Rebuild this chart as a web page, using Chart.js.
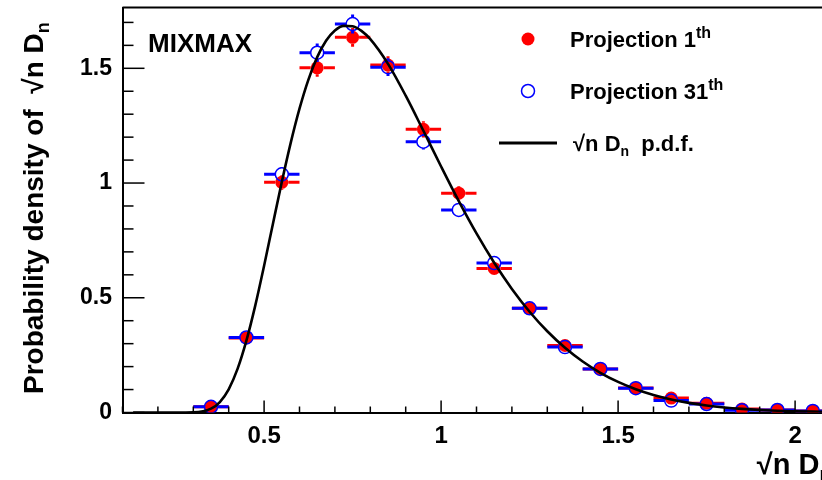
<!DOCTYPE html>
<html>
<head>
<meta charset="utf-8">
<script src="https://cdn.jsdelivr.net/npm/chart.js@4.4.1/dist/chart.umd.min.js"></script>
<style>
  html, body { margin: 0; padding: 0; overflow: hidden; background: #fff; width: 822px; height: 480px; }
</style>
</head>
<body>
<canvas id="kolmo" width="822" height="480"></canvas>
<script>
// bin centres (bin width 0.1)
const binCentres = [0.35, 0.45, 0.55, 0.65, 0.75, 0.85, 0.95, 1.05, 1.15, 1.25, 1.35, 1.45, 1.55, 1.65, 1.75, 1.85, 1.95, 2.05];
const binHalfWidth = 0.05;

// Projection 1th
const proj1 = [0.025, 0.325, 1.003, 1.502, 1.635, 1.514, 1.234, 0.956, 0.628, 0.454, 0.292, 0.190, 0.107, 0.063, 0.040, 0.015, 0.011, 0.007];
const proj1Err = [0.006, 0.018, 0.032, 0.039, 0.041, 0.039, 0.035, 0.031, 0.025, 0.021, 0.017, 0.014, 0.010, 0.008, 0.006, 0.004, 0.003, 0.003];

// Projection 31th
const proj31 = [0.025, 0.327, 1.038, 1.568, 1.693, 1.505, 1.180, 0.883, 0.651, 0.454, 0.285, 0.190, 0.106, 0.052, 0.037, 0.010, 0.011, 0.007];
const proj31Err = [0.006, 0.018, 0.032, 0.040, 0.041, 0.039, 0.034, 0.030, 0.026, 0.021, 0.017, 0.014, 0.010, 0.007, 0.006, 0.003, 0.003, 0.003];

// sqrt(n) Dn p.d.f.
const pdfX = [0.13, 0.2, 0.25, 0.3, 0.35, 0.375, 0.4, 0.425, 0.45, 0.475, 0.5, 0.525, 0.55, 0.575, 0.6, 0.625, 0.65, 0.675, 0.7, 0.725, 0.75, 0.775, 0.8, 0.85, 0.9, 0.95, 1.0, 1.05, 1.1, 1.15, 1.2, 1.25, 1.3, 1.35, 1.4, 1.45, 1.5, 1.55, 1.6, 1.65, 1.7, 1.75, 1.8, 1.85, 1.9, 1.95, 2.0, 2.05, 2.1];
const pdfY = [0, 0, 0.000004, 0.0008, 0.0166, 0.0457, 0.1012, 0.1899, 0.3129, 0.4658, 0.6396, 0.8229, 1.0043, 1.1739, 1.3241, 1.4499, 1.5486, 1.6200, 1.6647, 1.6850, 1.6835, 1.6632, 1.6269, 1.5193, 1.3808, 1.2277, 1.0720, 0.9211, 0.7803, 0.6523, 0.5385, 0.4392, 0.3540, 0.2821, 0.2222, 0.1731, 0.1333, 0.1015, 0.0765, 0.0570, 0.0420, 0.0306, 0.0221, 0.0158, 0.0111, 0.0078, 0.0054, 0.0037, 0.0025];

const xTickValues = [0.5, 1, 1.5, 2];
const xTickLabels = ["0.5", "1", "1.5", "2"];
const yTickValues = [0, 0.5, 1, 1.5];
const yTickLabels = ["0", "0.5", "1", "1.5"];

const FONT = '"Liberation Sans", Arial, Helvetica, sans-serif';
const MARKER_R = 6.5;

function isMajor(v) {
  return Math.abs(v / 0.5 - Math.round(v / 0.5)) < 1e-6;
}

function labelFor(v, values, labels) {
  const i = values.findIndex(t => Math.abs(t - v) < 1e-6);
  return i >= 0 ? labels[i] : "";
}

// parts: [text, mode]  mode 0 normal, 1 subscript, 2 superscript
function richText(ctx, parts, x, y, size, align, small) {
  const k = small || 0.64;
  const fontOf = p => "bold " + (p[1] ? Math.round(size * k) : size) + "px " + FONT;
  const widths = parts.map(p => { ctx.font = fontOf(p); return ctx.measureText(p[0]).width; });
  const total = widths.reduce((a, b) => a + b, 0);
  let cx = align === "right" ? x - total : x;
  ctx.textAlign = "left";
  ctx.textBaseline = "alphabetic";
  parts.forEach((p, i) => {
    ctx.font = fontOf(p);
    let dy = 0;
    if (p[1] === 1) dy = size * 0.22;
    if (p[1] === 2) dy = -size * 0.42;
    ctx.fillText(p[0], cx, y + dy);
    cx += widths[i];
  });
}

function seg(ctx, x1, y1, x2, y2) {
  ctx.beginPath();
  ctx.moveTo(x1, y1);
  ctx.lineTo(x2, y2);
  ctx.stroke();
}

function noPad(s) {
  s.paddingTop = 0;
  s.paddingBottom = 0;
  s.paddingLeft = 0;
  s.paddingRight = 0;
}

// error bars, drawn just under each dataset's markers
const errorBars = {
  id: "errorBars",
  beforeDatasetDraw(chart, args) {
    const ds = chart.data.datasets[args.index];
    if (!ds.errY) return;
    const ctx = chart.ctx;
    const xs = chart.scales.x, ys = chart.scales.y;
    const a = chart.chartArea;
    ctx.save();
    ctx.beginPath();
    ctx.rect(a.left, a.top, a.right - a.left, a.bottom - a.top);
    ctx.clip();
    ctx.strokeStyle = ds.pointBorderColor;
    ctx.lineWidth = 3;
    ds.data.forEach((p, i) => {
      const px = xs.getPixelForValue(p.x), py = ys.getPixelForValue(p.y);
      const xl = xs.getPixelForValue(p.x - binHalfWidth), xr = xs.getPixelForValue(p.x + binHalfWidth);
      const yt = ys.getPixelForValue(p.y + ds.errY[i]), yb = ys.getPixelForValue(p.y - ds.errY[i]);
      seg(ctx, xl, py, px - MARKER_R, py);
      seg(ctx, px + MARKER_R, py, xr, py);
      if (py - yt > MARKER_R) seg(ctx, px, yt, px, py - MARKER_R);
      if (yb - py > MARKER_R) seg(ctx, px, py + MARKER_R, px, Math.min(yb, a.bottom));
    });
    ctx.restore();
  }
};

// ROOT style frame: inward ticks, top border, texts and legend
const rootFrame = {
  id: "rootFrame",
  afterDraw(chart) {
    const ctx = chart.ctx;
    const a = chart.chartArea;
    const xs = chart.scales.x, ys = chart.scales.y;
    ctx.save();
    ctx.strokeStyle = "#000";
    ctx.lineWidth = 2;
    seg(ctx, a.left, a.top, a.right, a.top);
    ctx.lineWidth = 1.5;
    xs.ticks.forEach(t => {
      const px = xs.getPixelForValue(t.value);
      seg(ctx, px, a.bottom, px, a.bottom - (isMajor(t.value) ? 12 : 6));
    });
    ys.ticks.forEach(t => {
      const py = ys.getPixelForValue(t.value);
      seg(ctx, a.left, py, a.left + (isMajor(t.value) ? 22 : 11), py);
    });

    ctx.fillStyle = "#000";
    richText(ctx, [["MIXMAX", 0]], 148, 52, 26);

    // axis titles
    richText(ctx, [["\u221An D", 0], ["n", 1]], 831, 474, 29, "right");
    ctx.save();
    ctx.translate(43, 394);
    ctx.rotate(-Math.PI / 2);
    richText(ctx, [["Probability density of  \u221An D", 0], ["n", 1]], 0, 0, 28);
    ctx.restore();

    // legend
    const lg = [
      { y: 39, kind: "fill", color: "#ff0000", text: [["Projection 1", 0], ["th", 2]] },
      { y: 91, kind: "open", color: "#0000ff", text: [["Projection 31", 0], ["th", 2]] },
      { y: 143, kind: "line", color: "#000", text: [["\u221An D", 0], ["n", 1], ["  p.d.f.", 0]] }
    ];
    lg.forEach(e => {
      if (e.kind === "line") {
        ctx.strokeStyle = e.color;
        ctx.lineWidth = 3;
        seg(ctx, 499, e.y, 557, e.y);
      } else {
        ctx.beginPath();
        ctx.arc(528, e.y, MARKER_R, 0, Math.PI * 2);
        if (e.kind === "fill") { ctx.fillStyle = e.color; ctx.fill(); }
        else { ctx.strokeStyle = e.color; ctx.lineWidth = 1.5; ctx.stroke(); }
      }
      ctx.fillStyle = "#000";
      richText(ctx, e.text, e.kind === "line" ? 573 : 570, e.y + 8, 22, "left", e.kind === "line" ? 0.64 : 0.74);
    });
    ctx.restore();
  }
};

const ctx = document.getElementById("kolmo");

new Chart(ctx, {
  type: "scatter",
  data: {
    datasets: [
      {
        label: "pdf",
        data: pdfX.map((x, i) => ({ x: x, y: pdfY[i] })),
        showLine: true,
        borderColor: "#000",
        borderWidth: 2.6,
        pointRadius: 0,
        cubicInterpolationMode: "monotone"
      },
      {
        label: "Projection 31th",
        data: binCentres.map((x, i) => ({ x: x, y: proj31[i] })),
        errY: proj31Err,
        pointRadius: MARKER_R,
        pointBackgroundColor: "rgba(0,0,0,0)",
        pointBorderColor: "#0000ff",
        pointBorderWidth: 1.5
      },
      {
        label: "Projection 1th",
        data: binCentres.map((x, i) => ({ x: x, y: proj1[i] })),
        errY: proj1Err,
        pointRadius: MARKER_R,
        pointBackgroundColor: "#ff0000",
        pointBorderColor: "#ff0000",
        pointBorderWidth: 0
      }
    ]
  },
  options: {
    responsive: false,
    animation: false,
    layout: { autoPadding: false, padding: { top: 7.5, right: 0, left: 0, bottom: 0 } },
    plugins: { legend: { display: false }, tooltip: { enabled: false } },
    scales: {
      x: {
        type: "linear",
        min: 0.1,
        max: 2.076,
        afterFit: s => { s.height = 67.5; noPad(s); },
        afterBuildTicks: s => {
          const t = [];
          for (let k = 1; k <= 20; k++) t.push({ value: k / 10 });
          s.ticks = t;
        },
        grid: { drawOnChartArea: false, drawTicks: false },
        border: { display: true, color: "#000", width: 2 },
        ticks: {
          autoSkip: false,
          maxRotation: 0,
          padding: 9,
          color: "#000",
          font: { family: FONT, size: 24, weight: "bold" },
          callback: v => labelFor(v, xTickValues, xTickLabels)
        }
      },
      y: {
        type: "linear",
        min: 0,
        max: 1.765,
        afterFit: s => { s.width = 122.5; noPad(s); },
        afterBuildTicks: s => {
          const t = [];
          for (let k = 0; k <= 17; k++) t.push({ value: k / 10 });
          s.ticks = t;
        },
        grid: { drawOnChartArea: false, drawTicks: false },
        border: { display: true, color: "#000", width: 2 },
        ticks: {
          autoSkip: false,
          padding: 10.5,
          color: "#000",
          font: { family: FONT, size: 23, weight: "bold" },
          callback: v => labelFor(v, yTickValues, yTickLabels)
        }
      }
    }
  },
  plugins: [errorBars, rootFrame]
});
</script>
</body>
</html>
